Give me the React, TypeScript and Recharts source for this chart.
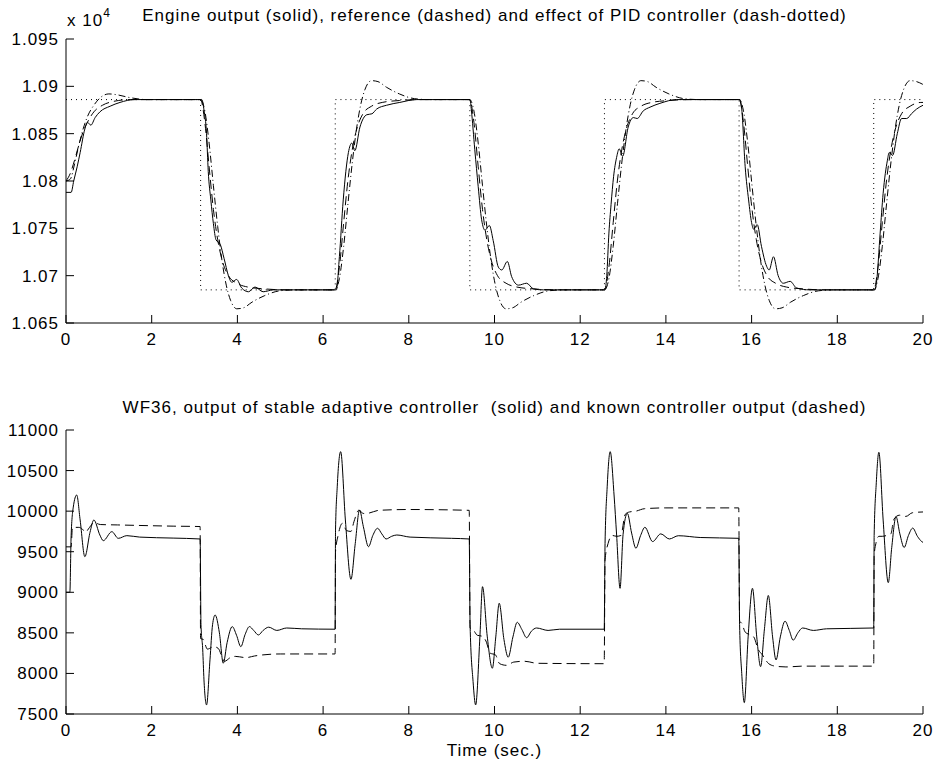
import { LineChart, Line, XAxis, YAxis } from "recharts";

type Pt = [number, number];

const xTicks = [0, 2, 4, 6, 8, 10, 12, 14, 16, 18, 20];
const topTicks = [1.065, 1.07, 1.075, 1.08, 1.085, 1.09, 1.095];
const bottomTicks = [7500, 8000, 8500, 9000, 9500, 10000, 10500, 11000];

// top panel, values in units of 10^4
const commandTop: Pt[] = [
  [0, 1.0886], [3.1416, 1.0886], [3.1416, 1.0685], [6.2832, 1.0685], [6.2832, 1.0886],
  [9.4248, 1.0886], [9.4248, 1.0685], [12.566, 1.0685], [12.566, 1.0886], [15.708, 1.0886],
  [15.708, 1.0685], [18.85, 1.0685], [18.85, 1.0886], [20, 1.0886],
];

const engineOut: Pt[] = [
  [0, 1.0788], [0.12, 1.0788], [0.18, 1.08], [0.26, 1.0815], [0.33, 1.083], [0.44, 1.0855], [0.5, 1.0862],
  [0.58, 1.0859], [0.68, 1.0867], [0.79, 1.0873], [1.03, 1.0879], [1.26, 1.0883], [1.6, 1.0886], [3.17, 1.0886],
  [3.22, 1.0875], [3.28, 1.085], [3.32, 1.081], [3.38, 1.078], [3.44, 1.0755], [3.5, 1.0738], [3.6, 1.0733],
  [3.69, 1.0718], [3.79, 1.07], [3.87, 1.0693], [3.98, 1.0696], [4.1, 1.0687], [4.26, 1.0683], [4.41, 1.0688],
  [4.6, 1.0683], [4.84, 1.0685], [6.31, 1.0685],
  [6.38, 1.072], [6.47, 1.078], [6.59, 1.083], [6.67, 1.084], [6.74, 1.0832], [6.86, 1.0857], [7.02, 1.087],
  [7.14, 1.0871], [7.25, 1.0876], [7.48, 1.088], [7.79, 1.0883], [8.18, 1.0886], [9.43, 1.0886],
  [9.46, 1.0875], [9.54, 1.0833], [9.62, 1.0794], [9.7, 1.0759], [9.78, 1.0748], [9.88, 1.0753], [9.97, 1.0737],
  [10.09, 1.0709], [10.17, 1.0706], [10.3, 1.0715], [10.4, 1.0699], [10.56, 1.069], [10.75, 1.0692],
  [10.91, 1.0686], [11.14, 1.0685], [12.58, 1.0685],
  [12.62, 1.07], [12.67, 1.0745], [12.72, 1.0775], [12.78, 1.0805], [12.85, 1.0825], [12.91, 1.0834],
  [12.99, 1.0826], [13.12, 1.0857], [13.24, 1.0867], [13.33, 1.0866], [13.47, 1.0874], [13.63, 1.0878],
  [13.86, 1.0882], [14.25, 1.0886], [15.73, 1.0886],
  [15.77, 1.0876], [15.85, 1.0815], [15.93, 1.078], [16.0, 1.0756], [16.05, 1.0749], [16.13, 1.0754],
  [16.23, 1.0731], [16.35, 1.071], [16.41, 1.0706], [16.51, 1.072], [16.62, 1.07], [16.74, 1.0692],
  [16.9, 1.0694], [17.05, 1.0687], [17.36, 1.0685], [18.88, 1.0685],
  [18.92, 1.0695], [19.0, 1.0745], [19.07, 1.0787], [19.17, 1.0822], [19.21, 1.083], [19.29, 1.0827],
  [19.4, 1.085], [19.5, 1.0866], [19.62, 1.0866], [19.73, 1.0871], [19.85, 1.0876], [20, 1.088],
];

const referenceOut: Pt[] = [
  [0, 1.08], [0.1, 1.0808], [0.2, 1.0822], [0.3, 1.0838], [0.4, 1.0852], [0.5, 1.0862], [0.65, 1.0873],
  [0.85, 1.088], [1.1, 1.0884], [1.5, 1.0886], [3.14, 1.0886],
  [3.24, 1.0862], [3.34, 1.0815], [3.44, 1.077], [3.54, 1.0738], [3.64, 1.0717], [3.79, 1.07], [3.99, 1.0692],
  [4.24, 1.0688], [4.64, 1.0686], [5.14, 1.0685], [6.28, 1.0685],
  [6.38, 1.0709], [6.48, 1.0756], [6.58, 1.0801], [6.68, 1.0833], [6.78, 1.0854], [6.93, 1.0871], [7.13, 1.0879],
  [7.38, 1.0883], [7.78, 1.0885], [8.28, 1.0886], [9.42, 1.0886],
  [9.52, 1.0862], [9.62, 1.0815], [9.72, 1.077], [9.82, 1.0738], [9.92, 1.0717], [10.07, 1.07], [10.27, 1.0692],
  [10.52, 1.0688], [10.92, 1.0686], [11.42, 1.0685], [12.57, 1.0685],
  [12.67, 1.0709], [12.77, 1.0756], [12.87, 1.0801], [12.97, 1.0833], [13.07, 1.0854], [13.22, 1.0871],
  [13.42, 1.0879], [13.67, 1.0883], [14.07, 1.0885], [14.57, 1.0886], [15.71, 1.0886],
  [15.81, 1.0862], [15.91, 1.0815], [16.01, 1.077], [16.11, 1.0738], [16.21, 1.0717], [16.36, 1.07],
  [16.56, 1.0692], [16.81, 1.0688], [17.21, 1.0686], [17.71, 1.0685], [18.85, 1.0685],
  [18.95, 1.0709], [19.05, 1.0756], [19.15, 1.0801], [19.25, 1.0833], [19.35, 1.0854], [19.5, 1.0871],
  [19.7, 1.0879], [19.95, 1.0883], [20, 1.0883],
];

const pidOut: Pt[] = [
  [0, 1.08], [0.1, 1.0802], [0.2, 1.0818], [0.3, 1.0838], [0.4, 1.0855], [0.5, 1.0868], [0.65, 1.088],
  [0.8, 1.0888], [1.0, 1.0892], [1.2, 1.0891], [1.5, 1.0888], [1.9, 1.0886], [3.14, 1.0886],
  [3.24, 1.0874], [3.34, 1.084], [3.44, 1.0795], [3.54, 1.0752], [3.64, 1.0716], [3.74, 1.069], [3.84, 1.0674],
  [3.99, 1.0665], [4.14, 1.0666], [4.34, 1.0672], [4.64, 1.0679], [4.99, 1.0684], [5.34, 1.0685], [6.28, 1.0685],
  [6.38, 1.0697], [6.48, 1.0731], [6.58, 1.0776], [6.68, 1.0819], [6.78, 1.0855], [6.88, 1.0881], [6.98, 1.0897],
  [7.13, 1.0906], [7.28, 1.0905], [7.48, 1.0899], [7.78, 1.0892], [8.13, 1.0887], [8.48, 1.0886], [9.42, 1.0886],
  [9.52, 1.0874], [9.62, 1.084], [9.72, 1.0795], [9.82, 1.0752], [9.92, 1.0716], [10.02, 1.069], [10.12, 1.0674],
  [10.27, 1.0665], [10.42, 1.0666], [10.62, 1.0672], [10.92, 1.0679], [11.27, 1.0684], [11.62, 1.0685], [12.57, 1.0685],
  [12.67, 1.0697], [12.77, 1.0731], [12.87, 1.0776], [12.97, 1.0819], [13.07, 1.0855], [13.17, 1.0881],
  [13.27, 1.0897], [13.42, 1.0906], [13.57, 1.0905], [13.77, 1.0899], [14.07, 1.0892], [14.42, 1.0887],
  [14.77, 1.0886], [15.71, 1.0886],
  [15.81, 1.0874], [15.91, 1.084], [16.01, 1.0795], [16.11, 1.0752], [16.21, 1.0716], [16.31, 1.069],
  [16.41, 1.0674], [16.56, 1.0665], [16.71, 1.0666], [16.91, 1.0672], [17.21, 1.0679], [17.56, 1.0684],
  [17.91, 1.0685], [18.85, 1.0685],
  [18.95, 1.0697], [19.05, 1.0731], [19.15, 1.0776], [19.25, 1.0819], [19.35, 1.0855], [19.45, 1.0881],
  [19.55, 1.0897], [19.7, 1.0906], [19.85, 1.0905], [20, 1.0902],
];

// bottom panel, WF36
const adaptiveOut: Pt[] = [
  [0, 9000], [0.09, 9000], [0.12, 9700], [0.17, 10050], [0.25, 10199], [0.33, 9891], [0.44, 9439], [0.56, 9738],
  [0.65, 9891], [0.79, 9706], [0.87, 9636], [1.07, 9747], [1.22, 9665], [1.42, 9698], [1.72, 9680], [2.5, 9668],
  [3.13, 9657],
  [3.15, 8600], [3.19, 8300], [3.22, 7920], [3.28, 7612], [3.36, 8167], [3.42, 8600], [3.48, 8720], [3.58, 8500],
  [3.67, 8126], [3.76, 8380], [3.88, 8577], [3.98, 8470], [4.08, 8330], [4.18, 8480], [4.28, 8577], [4.38, 8530],
  [4.49, 8474], [4.6, 8530], [4.73, 8570], [4.92, 8530], [5.15, 8560], [5.5, 8550], [6.28, 8545],
  [6.29, 9768], [6.33, 10300], [6.41, 10733], [6.52, 9891], [6.65, 9160], [6.75, 9600], [6.85, 10014],
  [6.94, 9808], [7.06, 9562], [7.16, 9700], [7.27, 9789], [7.37, 9720], [7.47, 9657], [7.6, 9690], [7.72, 9706],
  [8.03, 9680], [9.0, 9665], [9.41, 9657],
  [9.43, 8600], [9.5, 7900], [9.56, 7612], [9.66, 8460], [9.72, 9069], [9.83, 8460], [9.95, 8064], [10.03, 8450],
  [10.11, 8865], [10.22, 8420], [10.32, 8200], [10.43, 8450], [10.53, 8630], [10.64, 8540], [10.75, 8440],
  [10.86, 8520], [10.98, 8560], [11.25, 8530], [11.52, 8545], [12.56, 8545],
  [12.58, 9600], [12.63, 10300], [12.7, 10733], [12.79, 10199], [12.85, 9706], [12.93, 9049], [13.0, 9710],
  [13.1, 9973], [13.2, 9730], [13.3, 9543], [13.41, 9700], [13.51, 9801], [13.69, 9625], [13.88, 9720],
  [14.08, 9657], [14.29, 9697], [14.8, 9675], [15.7, 9665],
  [15.72, 8600], [15.77, 8000], [15.83, 7640], [15.92, 8460], [16.02, 9049], [16.12, 8450], [16.21, 8084],
  [16.3, 8550], [16.39, 8961], [16.49, 8450], [16.57, 8166], [16.67, 8450], [16.78, 8644], [16.88, 8530],
  [16.97, 8410], [17.08, 8500], [17.19, 8560], [17.44, 8530], [17.75, 8550], [18.85, 8560],
  [18.86, 9700], [18.91, 10350], [18.97, 10725], [19.07, 9890], [19.19, 9119], [19.27, 9550], [19.37, 9932],
  [19.46, 9720], [19.56, 9552], [19.66, 9700], [19.76, 9791], [19.87, 9690], [19.97, 9625], [20, 9615],
];

const knownOut: Pt[] = [
  [0, 9560], [0.12, 9560], [0.15, 9800], [0.3, 9800], [0.38, 9780], [0.45, 9740], [0.55, 9800], [0.65, 9860],
  [0.8, 9835], [1.2, 9830], [2.5, 9815], [3.13, 9810],
  [3.14, 8430], [3.2, 8420], [3.3, 8300], [3.45, 8330], [3.55, 8310], [3.7, 8150], [3.85, 8200], [3.95, 8210],
  [4.2, 8195], [4.4, 8215], [5.0, 8240], [6.28, 8240],
  [6.29, 9500], [6.35, 9700], [6.45, 9850], [6.55, 9760], [6.65, 9750], [6.72, 9870], [6.83, 10010],
  [6.95, 9970], [7.06, 9975], [7.3, 10010], [8.0, 10020], [9.41, 10010],
  [9.43, 8560], [9.5, 8540], [9.6, 8470], [9.7, 8460], [9.8, 8400], [9.9, 8250], [10.02, 8230], [10.12, 8120],
  [10.28, 8100], [10.45, 8140], [10.7, 8150], [11.0, 8125], [12.56, 8120],
  [12.58, 9400], [12.65, 9600], [12.75, 9700], [12.85, 9690], [12.95, 9700], [13.05, 9960], [13.15, 9990],
  [13.3, 10000], [13.5, 10030], [14.0, 10040], [15.7, 10040],
  [15.72, 8640], [15.77, 8620], [15.85, 8510], [15.95, 8480], [16.05, 8450], [16.15, 8300], [16.25, 8230],
  [16.4, 8120], [16.55, 8090], [16.8, 8080], [17.2, 8090], [18.85, 8090],
  [18.86, 9450], [18.9, 9600], [18.97, 9690], [19.05, 9690], [19.15, 9700], [19.25, 9720], [19.32, 9900],
  [19.45, 9950], [19.6, 9935], [19.75, 9980], [20, 9990],
];

const toRows = (pts: Pt[]) => pts.map(([t, v]) => ({ t, v }));

const FONT = "'Liberation Sans', Arial, Helvetica, sans-serif";
const tickStyle = { fill: "#000", fontSize: 17, fontFamily: FONT };

type Series = { pts: Pt[]; dash?: string; curve: "linear" | "monotone" };

function Panel(props: {
  height: number;
  top: number;
  bottom: number;
  domain: [number, number];
  yTicks: number[];
  fmt: (v: number) => string;
  series: Series[];
}) {
  const { height, top, bottom, domain, yTicks, fmt, series } = props;
  return (
    <LineChart width={936} height={height} margin={{ top, right: 13, bottom, left: 0 }}>
      <XAxis
        dataKey="t"
        type="number"
        domain={[0, 20]}
        ticks={xTicks}
        interval={0}
        allowDataOverflow
        height={30}
        tickSize={-8}
        tickMargin={18}
        stroke="#000"
        tick={tickStyle}
      />
      <XAxis
        xAxisId="top"
        orientation="top"
        type="number"
        domain={[0, 20]}
        ticks={xTicks}
        interval={0}
        allowDataOverflow
        height={0}
        tickSize={-8}
        stroke="#000"
        tickFormatter={() => ""}
      />
      <YAxis
        type="number"
        domain={domain}
        ticks={yTicks}
        interval={0}
        allowDataOverflow
        width={66}
        tickSize={-8}
        tickMargin={15}
        stroke="#000"
        tick={tickStyle}
        tickFormatter={fmt}
      />
      <YAxis
        yAxisId="right"
        orientation="right"
        type="number"
        domain={domain}
        ticks={yTicks}
        interval={0}
        allowDataOverflow
        width={0}
        tickSize={-8}
        stroke="#000"
        tickFormatter={() => ""}
      />
      {series.map((s, i) => (
        <Line
          key={i}
          data={toRows(s.pts)}
          dataKey="v"
          type={s.curve}
          stroke="#000"
          strokeWidth={1}
          strokeDasharray={s.dash}
          dot={false}
          activeDot={false}
          isAnimationActive={false}
        />
      ))}
    </LineChart>
  );
}

export default function App() {
  return (
    <div
      style={{
        position: "absolute",
        left: 0,
        top: 0,
        width: 936,
        height: 768,
        background: "#fff",
        fontFamily: FONT,
        letterSpacing: "1px",
        color: "#000",
      }}
    >
      <div style={{ position: "absolute", left: 0, top: 0 }}>
        <Panel
          height={360}
          top={39}
          bottom={7}
          domain={[1.065, 1.095]}
          yTicks={topTicks}
          fmt={(v) => String(Number(v.toFixed(3)))}
          series={[
            { pts: commandTop, dash: "1 4", curve: "linear" },
            { pts: pidOut, dash: "7 3 1 3", curve: "monotone" },
            { pts: referenceOut, dash: "9 5", curve: "monotone" },
            { pts: engineOut, curve: "monotone" },
          ]}
        />
      </div>
      <div style={{ position: "absolute", left: 0, top: 384 }}>
        <Panel
          height={384}
          top={46}
          bottom={24}
          domain={[7500, 11000]}
          yTicks={bottomTicks}
          fmt={(v) => String(v)}
          series={[
            { pts: knownOut, dash: "9 5", curve: "monotone" },
            { pts: adaptiveOut, curve: "monotone" },
          ]}
        />
      </div>
      <div style={{ position: "absolute", left: 67, top: 8, fontSize: 17, whiteSpace: "pre" }}>
        x 10<sup style={{ fontSize: 12, position: "relative", top: -2 }}>4</sup>
      </div>
      <div
        style={{
          position: "absolute",
          left: 66,
          width: 857,
          top: 6,
          textAlign: "center",
          fontSize: 17,
          whiteSpace: "pre",
        }}
      >
        Engine output (solid), reference (dashed) and effect of PID controller (dash-dotted)
      </div>
      <div
        style={{
          position: "absolute",
          left: 66,
          width: 857,
          top: 398,
          textAlign: "center",
          fontSize: 17,
          whiteSpace: "pre",
        }}
      >
        WF36, output of stable adaptive controller  (solid) and known controller output (dashed)
      </div>
      <div
        style={{
          position: "absolute",
          left: 66,
          width: 857,
          top: 741,
          textAlign: "center",
          fontSize: 17,
          whiteSpace: "pre",
        }}
      >
        Time (sec.)
      </div>
    </div>
  );
}
